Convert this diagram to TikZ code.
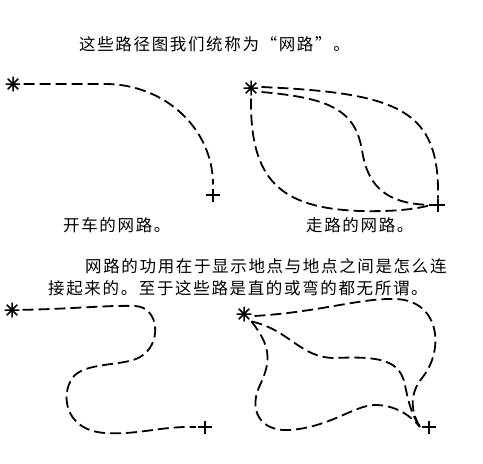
\documentclass[tikz,border=0pt]{standalone}
\usepackage{fontspec}
\newfontfamily\cjk[LetterSpace=10]{Noto Sans CJK SC}
\usetikzlibrary{calc}
\tikzset{
  road/.style={line width=1.8pt, dash pattern=on 11pt off 5pt},
  starmark/.style={circle, inner sep=0pt, minimum size=15pt, outer sep=3pt,
    path picture={
      \draw[line width=1.5pt]
        (path picture bounding box.north) -- (path picture bounding box.south)
        (path picture bounding box.west) -- (path picture bounding box.east)
        (path picture bounding box.north west) -- (path picture bounding box.south east)
        (path picture bounding box.north east) -- (path picture bounding box.south west);}},
  plusmark/.style={rectangle, inner sep=0pt, minimum width=14pt, minimum height=13pt, outer sep=2pt,
    path picture={
      \draw[line width=1.3pt]
        (path picture bounding box.north) -- (path picture bounding box.south)
        (path picture bounding box.west) -- (path picture bounding box.east);}},
  txt/.style={anchor=west, inner sep=0pt, font=\cjk\fontsize{16.5pt}{19pt}\selectfont}
}
\begin{document}
\begin{tikzpicture}[x=1pt,y=-1pt]
\useasboundingbox[fill=white] (0,0) rectangle (483,464);

% texts
\node[txt] (t1) at (79,44) {这些路径图我们统称为“网路”。};
\node[txt] (t2) at (85,266) {网路的功用在于显示地点与地点之间是怎么连};
\node[txt] (t3) at (48,288) {接起来的。至于这些路是直的或弯的都无所谓。};
\node[txt] (c1) at (63,225) {开车的网路。};
\node[txt] (c2) at (306,225) {走路的网路。};

% diagram 1
\node[starmark] (s1) at (13,84) {};
\node[plusmark, outer sep=4pt] (e1) at (213,195) {};
\draw[road] (s1) -- (105,84) .. controls (165,84) and (213,129) .. (e1.north);

% diagram 2
\node[starmark] (s2) at (251,88) {};
\node[plusmark, outer sep=0pt] (e2) at (438,205) {};
\draw[road] ($(s2.east)+(0,-1)$) .. controls (400,93) and (440,110) .. (e2.north);
\draw[road] ($(s2.east)+(0,4)$) .. controls (330,98) and (355,110) .. (362,150)
   .. controls (368,190) and (390,204) .. (e2.west);
\draw[road] (s2.south) .. controls (250,180) and (280,208) .. (360,211)
   .. controls (400,212) and (420,208) .. (e2.west);

% diagram 3
\node[starmark] (s3) at (12,310) {};
\node[plusmark] (e3) at (205,427) {};
\draw[road] (s3) .. controls (70,309) and (110,305) .. (135,306)
   .. controls (160,307) and (162,345) .. (140,357)
   .. controls (125,366) and (90,362) .. (75,375)
   .. controls (60,390) and (62,430) .. (105,433)
   .. controls (140,435) and (160,426) .. (e3.west);

% diagram 4
\node[starmark] (s4) at (244,314) {};
\node[plusmark] (e4) at (429,427) {};
\draw[road] ($(s4.east)+(0,2)$) .. controls (320,312) and (360,298) .. (395,299)
   .. controls (440,300) and (445,350) .. (422,378)
   .. controls (410,393) and (410,410) .. (e4.west);
\draw[road] (s4.south east) .. controls (290,330) and (300,358) .. (335,358)
   .. controls (380,356) and (400,360) .. (405,385)
   .. controls (409,405) and (412,415) .. (e4.west);
\draw[road] (s4.south east) .. controls (270,345) and (272,360) .. (260,385)
   .. controls (248,410) and (260,432) .. (290,430)
   .. controls (330,427) and (355,405) .. (375,405)
   .. controls (395,405) and (410,415) .. (e4.west);
\end{tikzpicture}
\end{document}
